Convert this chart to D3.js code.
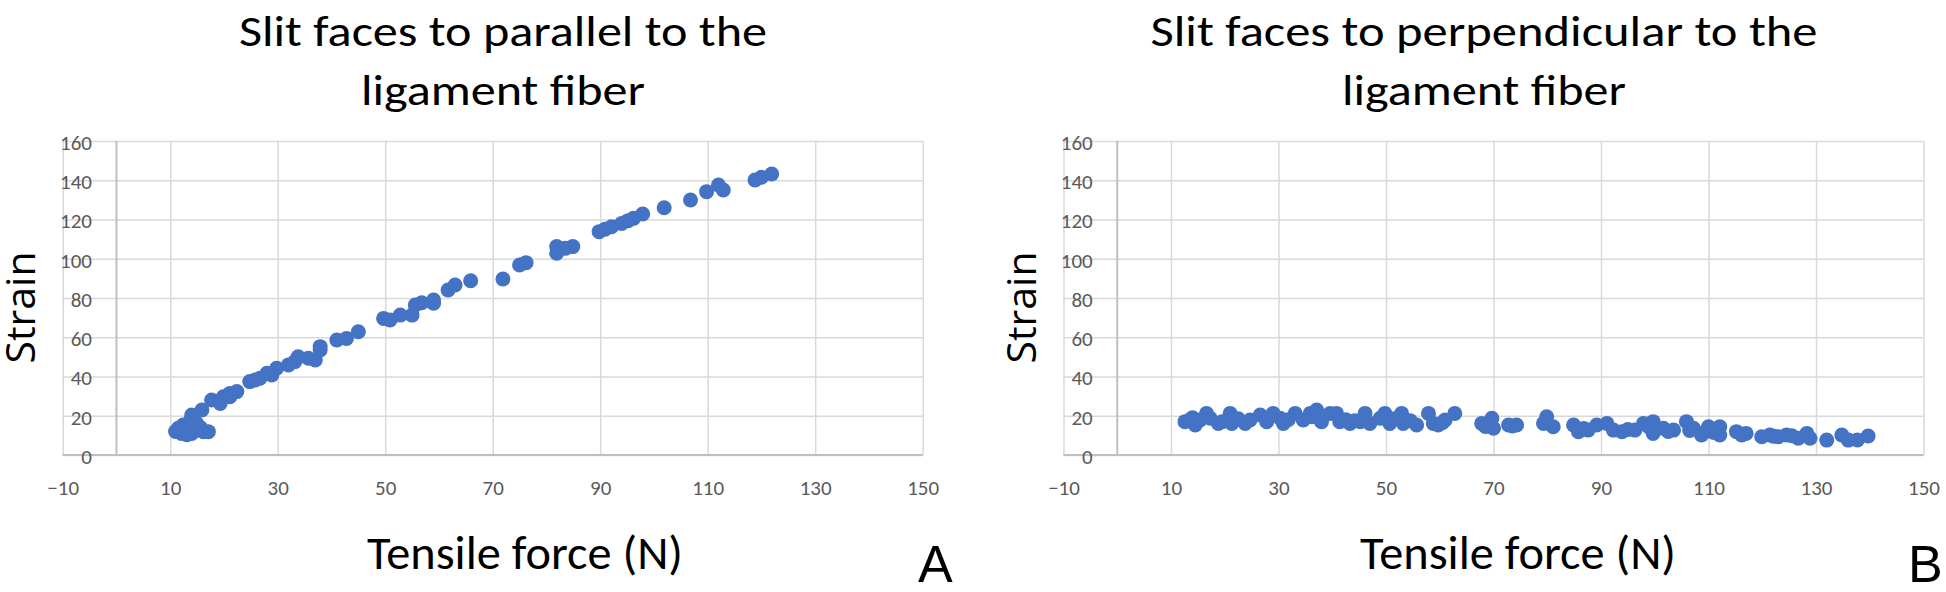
<!DOCTYPE html>
<html><head><meta charset="utf-8">
<script src="https://cdn.jsdelivr.net/npm/d3@7"></script>
<style>html,body{margin:0;padding:0;background:#fff;}svg{display:block;}</style>
</head><body>
<svg id="chart" width="1946" height="592"></svg>
<script>
// ---- data ----
const xTicks = [-10, 10, 30, 50, 70, 90, 110, 130, 150];
const yTicks = [0, 20, 40, 60, 80, 100, 120, 140, 160];

const titleA = ["Slit faces to parallel to the", "ligament fiber"];
const titleB = ["Slit faces to perpendicular to the", "ligament fiber"];
const xTitle = "Tensile force (N)";
const yTitle = "Strain";
const panelLetters = ["A", "B"];

const parallelForce = [11.0,12.1,13.1,11.5,12.4,13.7,14.0,15.2,16.2,17.1,14.9,15.9,14.0,12.8,15.6,
  17.7,19.3,19.9,21.1,22.4,21.1,24.8,25.8,26.7,28.0,28.9,29.8,32.0,33.2,33.8,35.7,37.0,37.9,37.9,
  41.0,42.8,45.0,49.7,50.9,52.8,55.0,55.6,56.8,59.0,59.0,61.7,63.0,65.9,71.9,75.0,76.2,81.9,81.9,
  83.5,84.9,89.8,90.9,92.1,94.0,95.2,96.2,97.9,101.9,106.8,109.8,112.0,112.9,118.8,120.0,121.9];
const parallelStrain = [12.0,11.0,10.3,13.6,15.3,17.0,20.4,12.7,11.9,11.9,16.1,22.9,11.0,12.5,14.0,
  28.0,26.3,29.7,31.4,32.3,29.7,37.4,38.2,39.1,41.6,40.8,44.2,45.9,47.6,50.1,49.3,48.4,53.5,55.2,
  58.6,59.4,62.8,69.6,68.8,71.3,71.3,76.4,77.6,79.0,77.3,84.1,86.6,88.8,89.7,96.8,98.0,106.2,102.8,
  105.3,106.2,113.8,115.0,116.3,118.0,119.4,120.6,122.8,126.0,129.9,134.2,137.6,135.0,140.1,141.5,143.2];

const perpForce = [12.6,13.5,14.5,15.4,16.6,17.3,18.8,21.0,21.3,23.8,24.7,26.6,27.8,29.0,30.9,30.3,
  33.1,34.6,35.9,37.1,38.0,39.6,40.8,41.4,43.3,45.2,46.1,47.0,48.9,49.8,50.7,52.9,53.2,55.7,57.9,
  58.8,59.7,61.0,62.8,67.8,69.7,70.0,72.8,74.3,79.3,79.9,81.1,84.9,85.8,87.6,89.2,91.1,92.3,93.9,
  96.3,97.9,99.7,99.7,101.6,103.5,105.9,107.2,108.7,110.0,112.1,112.1,115.2,116.2,119.9,121.4,
  123.0,124.5,126.7,128.3,128.9,132.0,134.8,136.0,137.7,139.7,
  14.0,19.5,22.5,31.8,36.2,42.5,44.2,51.5,54.5,60.5,68.5,73.5,86.8,95.0,98.8,102.5,106.5,109.5,111.0,117.0,122.2,125.5];
const perpStrain = [17.0,17.8,15.3,17.8,21.2,18.7,16.1,21.2,16.1,16.1,17.8,20.4,17.0,21.2,16.1,18.7,
  21.2,17.8,21.2,22.9,17.0,21.2,21.2,17.0,16.1,17.0,21.2,16.1,18.7,21.2,16.1,21.2,16.1,15.3,21.2,
  16.1,15.3,17.8,21.2,16.1,18.7,13.6,15.3,15.3,16.1,19.5,14.4,15.3,11.9,12.7,15.3,16.1,12.7,11.9,
  12.7,16.1,17.0,11.0,13.6,12.7,17.0,13.6,10.2,14.4,14.4,10.2,11.9,10.2,9.3,10.2,
  9.3,10.2,8.5,11.0,8.5,7.6,10.2,7.6,7.7,9.7,
  19.0,17.0,18.5,18.0,19.5,18.0,17.5,18.5,17.5,16.5,14.5,14.8,13.5,13.0,14.5,12.0,12.5,12.0,11.5,11.0,9.5,9.8];

// ---- layout ----
const W = 1946, H = 592;
const plotW = 860, plotTop = 141, plotBottom = 455;
const panels = [
  {left: 62.7, force: parallelForce, strain: parallelStrain, title: titleA, titleX: 503, titleW: [528, 284],
   letter: panelLetters[0], letterX: 918, xTitleX: 525},
  {left: 1063.5, force: perpForce, strain: perpStrain, title: titleB, titleX: 1484, titleW: [667, 284],
   letter: panelLetters[1], letterX: 1908, xTitleX: 1518}
];
const dotColor = "#4472C4";
const gridColor = "#d9d9d9";
const axisColor = "#bfbfbf";
const labelFont = "Carlito, Calibri, Lato, sans-serif";

const svg = d3.select("#chart");
svg.append("rect").attr("width", W).attr("height", H).attr("fill", "#fff");

panels.forEach(p => {
  const x = d3.scaleLinear().domain([-10, 150]).range([p.left, p.left + plotW]);
  const y = d3.scaleLinear().domain([0, 160]).range([plotBottom, plotTop]);
  const g = svg.append("g");

  // vertical gridlines
  const gx = g.append("g").attr("transform", `translate(0,${plotBottom})`)
    .call(d3.axisBottom(x).tickValues(xTicks).tickSize(-(plotBottom - plotTop)).tickFormat(""));
  gx.select(".domain").remove();
  gx.selectAll("line").attr("stroke", gridColor).attr("stroke-width", 1.5);

  // horizontal gridlines
  const gy = g.append("g").attr("transform", `translate(${x(-10)},0)`)
    .call(d3.axisLeft(y).tickValues(yTicks).tickSize(-plotW).tickFormat(""));
  gy.select(".domain").remove();
  gy.selectAll("line").attr("stroke", gridColor).attr("stroke-width", 1.5);

  // axis lines (vertical axis crosses at x = 0, horizontal at y = 0)
  g.append("line").attr("x1", x(0)).attr("x2", x(0)).attr("y1", y(0)).attr("y2", y(160))
    .attr("stroke", axisColor).attr("stroke-width", 2);
  g.append("line").attr("x1", x(-10)).attr("x2", x(150)).attr("y1", y(0)).attr("y2", y(0))
    .attr("stroke", axisColor).attr("stroke-width", 2);

  // y tick labels
  const ly = g.append("g").attr("transform", `translate(${x(0) - 24.5},0)`)
    .call(d3.axisLeft(y).tickValues(yTicks).tickSize(0).tickPadding(0));
  ly.select(".domain").remove();
  ly.selectAll("text").attr("font-family", labelFont).attr("font-size", 21)
    .attr("fill", "#595959").attr("dy", "0.40em");

  // x tick labels
  const lx = g.append("g").attr("transform", `translate(0,${plotBottom})`)
    .call(d3.axisBottom(x).tickValues(xTicks).tickSize(0).tickPadding(0));
  lx.select(".domain").remove();
  lx.selectAll("text").attr("font-family", labelFont).attr("font-size", 21)
    .attr("fill", "#595959").attr("y", 40).attr("dy", 0);

  // points
  g.append("g").selectAll("circle").data(d3.range(p.force.length)).join("circle")
    .attr("cx", i => x(p.force[i])).attr("cy", i => y(p.strain[i]))
    .attr("r", 7.5).attr("fill", dotColor);

  // title
  p.title.forEach((t, i) => {
    g.append("text").attr("x", p.titleX).attr("y", 46 + i * 59)
      .attr("text-anchor", "middle").attr("font-family", labelFont).attr("font-size", 44)
      .attr("fill", "#000").attr("textLength", p.titleW[i]).attr("lengthAdjust", "spacingAndGlyphs")
      .text(t);
  });

  // x axis title
  g.append("text").attr("x", p.xTitleX).attr("y", 569).attr("text-anchor", "middle")
    .attr("font-family", labelFont).attr("font-size", 47).attr("fill", "#000")
    .attr("textLength", 316).attr("lengthAdjust", "spacingAndGlyphs").text(xTitle);

  // y axis title
  g.append("text").attr("transform", `translate(${p.left - 28},${307.5}) rotate(-90)`)
    .attr("text-anchor", "middle").attr("font-family", "'Open Sans', sans-serif").attr("font-size", 40)
    .attr("fill", "#000").attr("textLength", 112).attr("lengthAdjust", "spacingAndGlyphs").text(yTitle);

  // panel letter
  svg.append("text").attr("x", p.letterX).attr("y", 582).attr("font-family", "'Liberation Sans', Arial, sans-serif")
    .attr("font-size", 52).attr("fill", "#000").text(p.letter);
});
</script>
</body></html>
